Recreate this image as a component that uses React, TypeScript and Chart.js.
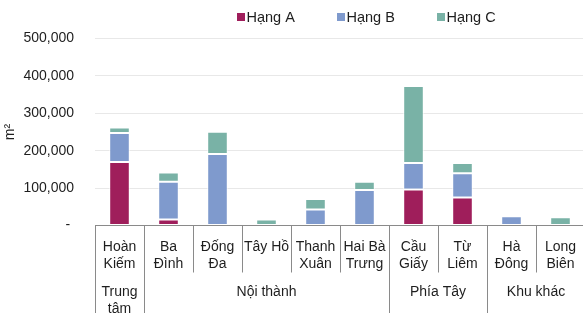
import React, { useEffect, useRef } from "react";
import { Chart, registerables } from "chart.js";

Chart.register(...registerables);

const categories: string[][] = [
  ["Hoàn", "Kiếm"],
  ["Ba", "Đình"],
  ["Đống", "Đa"],
  ["Tây Hồ"],
  ["Thanh", "Xuân"],
  ["Hai Bà", "Trưng"],
  ["Cầu", "Giấy"],
  ["Từ", "Liêm"],
  ["Hà", "Đông"],
  ["Long", "Biên"],
];

const groups = [
  { label: ["Trung", "tâm"], from: 0, to: 0 },
  { label: ["Nội thành"], from: 1, to: 5 },
  { label: ["Phía Tây"], from: 6, to: 7 },
  { label: ["Khu khác"], from: 8, to: 9 },
];

const seriesNames = ["Hạng A", "Hạng B", "Hạng C"];
const hangA = [170000, 16000, 0, 0, 0, 0, 96000, 75000, 0, 0];
const hangB = [77000, 101000, 191000, 0, 43000, 95000, 71000, 65000, 25000, 0];
const hangC = [15000, 25000, 60000, 16000, 28000, 22000, 206000, 27000, 0, 22000];
const seriesColors = ["#9F1E5B", "#7F9ACD", "#79B2A6"];

const yTicks = [0, 100000, 200000, 300000, 400000, 500000];
const yTitle = "m²";

const FONT = "Liberation Sans, Arial, sans-serif";
const TEXT = "#1e1e1e";
const LINE = "#8a8a8a";

const multiAxisPlugin = {
  id: "multiAxis",
  afterDraw(chart: any) {
    const ctx = chart.ctx;
    const xs = chart.scales.x;
    const n = categories.length;
    const cw = xs.width / n;
    const axisY = chart.chartArea.bottom;
    ctx.save();
    const groupBounds = new Set<number>();
    groups.forEach((g) => {
      groupBounds.add(g.from);
      groupBounds.add(g.to + 1);
    });
    ctx.strokeStyle = LINE;
    ctx.lineWidth = 1;
    for (let i = 0; i <= n; i++) {
      const x = Math.round(xs.left + i * cw) + 0.5;
      const yEnd = groupBounds.has(i) ? chart.height : axisY + 47;
      ctx.beginPath();
      ctx.moveTo(x, axisY);
      ctx.lineTo(x, yEnd);
      ctx.stroke();
    }
    ctx.fillStyle = TEXT;
    ctx.font = `14px ${FONT}`;
    ctx.textAlign = "center";
    ctx.textBaseline = "middle";
    categories.forEach((lines, i) => {
      const x = xs.getPixelForValue(i);
      lines.forEach((t, j) => ctx.fillText(t, x, axisY + 22 + j * 16.5));
    });
    groups.forEach((g) => {
      const x = (xs.getPixelForValue(g.from) + xs.getPixelForValue(g.to)) / 2;
      g.label.forEach((t, j) => ctx.fillText(t, x, axisY + 67 + j * 16.8));
    });
    const legendX = 237;
    const legendStep = 100;
    ctx.textAlign = "left";
    ctx.font = `14.5px ${FONT}`;
    chart.data.datasets.forEach((ds: any, i: number) => {
      const bx = legendX + i * legendStep;
      ctx.fillStyle = ds.backgroundColor;
      ctx.fillRect(bx, 13, 8, 8);
      ctx.fillStyle = TEXT;
      ctx.fillText(ds.label, bx + 9.5, 17.5);
    });
    ctx.restore();
  },
};

export default function App() {
  const ref = useRef<HTMLCanvasElement | null>(null);
  useEffect(() => {
    if (!ref.current) return;
    const data = [hangA, hangB, hangC];
    const chart = new Chart(ref.current, {
      type: "bar",
      data: {
        labels: categories.map((c) => c.join(" ")),
        datasets: data.map((d, i) => ({
          label: seriesNames[i],
          data: d,
          backgroundColor: seriesColors[i],
          borderColor: "rgba(255,255,255,0.75)",
          borderWidth: 1,
          borderSkipped: false,
          barPercentage: 0.42,
          categoryPercentage: 1,
        })),
      },
      options: {
        responsive: false,
        animation: false,
        devicePixelRatio: 1,
        layout: { padding: { top: 38.5, right: 5, left: 0, bottom: 0 } },
        plugins: { legend: { display: false }, tooltip: { enabled: false } },
        scales: {
          x: {
            stacked: true,
            grid: { display: false },
            ticks: { display: false },
            border: { display: true, color: LINE, width: 1 },
            afterFit: (s: any) => {
              s.height = 87.5;
            },
          },
          y: {
            stacked: true,
            min: yTicks[0],
            max: yTicks[yTicks.length - 1],
            afterBuildTicks: (s: any) => {
              s.ticks = yTicks.map((v) => ({ value: v }));
            },
            grid: { color: "#e8e8e8", drawTicks: false, lineWidth: 1 },
            border: { display: false },
            ticks: {
              padding: 21,
              color: TEXT,
              font: { family: FONT, size: 14 },
              callback: (v: any) => (Number(v) === 0 ? "- " : Number(v).toLocaleString("en-US")),
            },
            title: {
              display: true,
              text: yTitle,
              color: TEXT,
              font: { family: FONT, size: 14 },
              padding: { top: 2, bottom: 0 },
            },
            afterFit: (s: any) => {
              s.width = 95;
            },
          },
        },
      },
      plugins: [multiAxisPlugin],
    });
    return () => chart.destroy();
  }, []);
  return (
    <div style={{ position: "absolute", left: 0, top: 0, width: 583, height: 313, overflow: "hidden", background: "#fff" }}>
      <canvas ref={ref} width={590} height={313} style={{ width: 590, height: 313, display: "block" }} />
    </div>
  );
}
